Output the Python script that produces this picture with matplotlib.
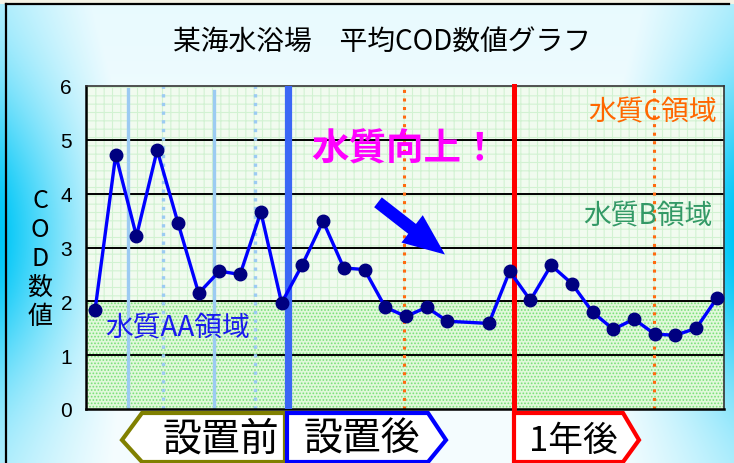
import numpy as np
import matplotlib
matplotlib.use("Agg")
import matplotlib.pyplot as plt
from matplotlib.patches import Polygon
from matplotlib.lines import Line2D

plt.rcParams['font.family'] = ['Noto Sans CJK JP', 'DejaVu Sans']
plt.rcParams['hatch.linewidth'] = 0.8

# ---------------- data ----------------
title = "某海水浴場　平均COD数値グラフ"
ylabel_chars = ["C", "O", "D", "数", "値"]
slots = [1, 2, 3, 4, 5, 6, 7, 8, 9, 10, 11, 12, 13, 14, 15, 16, 17, 18,
         20, 21, 22, 23, 24, 25, 26, 27, 28, 29, 30, 31]
cod = [1.83, 4.72, 3.21, 4.81, 3.46, 2.15, 2.56, 2.50, 3.66, 1.97,
       2.68, 3.49, 2.62, 2.59, 1.89, 1.72, 1.89, 1.63,
       1.59, 2.56, 2.02, 2.67, 2.33, 1.80, 1.48, 1.67, 1.39, 1.37, 1.50, 2.06]
yticks = [0, 1, 2, 3, 4, 5, 6]
lightblue_solid = [2.58, 6.75]
lightblue_dotted = [4.28, 8.72]
install_slot = 10.33
orange_dotted = [15.89, 27.98]
oneyear_slot = 21.23
phase_labels = ["設置前", "設置後", "1年後"]
zone_labels = ["水質AA領域", "水質B領域", "水質C領域"]
improve_label = "水質向上！"

W, H = 734, 464
fig = plt.figure(figsize=(W / 100, H / 100), dpi=100)

def fx(px):
    return px / W

def fy(py):
    return 1 - py / H

# ---------------- background gradient ----------------
bg = fig.add_axes([0, 0, 1, 1], zorder=-10)
bg.set_axis_off()
xx, yy = np.meshgrid(np.arange(W), np.arange(H))
dx = np.abs(xx - 367.0)
wx = np.clip((dx - 230) / 135.0, 0, 1) ** 1.2
wy = np.exp(-((yy - 235) / 150.0) ** 2)
w = wx * (0.25 + 0.75 * wy)
w = np.maximum(w, 0.04 + 0.05 * np.clip((200 - yy) / 200, 0, 1))
cyan = np.array([0.0, 0.78, 0.97])
white = np.array([1.0, 1.0, 1.0])
img = white[None, None, :] * (1 - w[..., None]) + cyan[None, None, :] * w[..., None]
img[:5, :, :] = np.array([0.96, 0.95, 0.90])
bg.imshow(img, extent=[0, 1, 0, 1], aspect='auto', origin='upper')
bg.set_xlim(0, 1)
bg.set_ylim(0, 1)
fig.add_artist(Line2D([fx(6), fx(6)], [fy(5), 0], color='black', lw=1.6))
fig.add_artist(Line2D([fx(6), fx(729)], [fy(5), fy(5)], color='black', lw=1.6))

# ---------------- main axes ----------------
ax = fig.add_axes([fx(86), fy(410), fx(724) - fx(86), fy(87) - fy(410)])
ax.set_xlim(0.566, 31.34)
ax.set_ylim(0, 6)
ax.set_facecolor('white')

ax.axhspan(0, 2, facecolor='#e0f8da', edgecolor='#78e078', hatch='.....', lw=0, zorder=0)
ax.axhspan(2, 6, facecolor='#f1fbef', edgecolor='#d2f2d2', hatch='++', lw=0, zorder=0)

for yv in yticks[1:-1]:
    ax.axhline(yv, color='black', lw=1.4, zorder=1)

for xv in lightblue_solid:
    ax.axvline(xv, ymax=0.99 if xv < 5 else 0.985, color='#9ccbf2', lw=2.4, zorder=2)
for xv in lightblue_dotted:
    ax.axvline(xv, color='#9ccbf2', lw=2.4, ls=(0, (1, 1.6)), zorder=2)
for xv in orange_dotted:
    ax.axvline(xv, color='#ff6a10', lw=2.2, ls=(0, (1, 1.8)), zorder=2)
ax.axvline(install_slot, color='#3b66f5', lw=5.2, zorder=3)
ax.axvline(oneyear_slot, ymin=-0.02, color='#ff0000', lw=3.6, zorder=3, clip_on=False)

ax.plot(slots, cod, color='#0000ff', lw=2.4, zorder=5,
        marker='o', markersize=9, markerfacecolor='#000080', markeredgecolor='#000080')

ax.set_yticks(yticks)
ax.set_yticklabels([str(t) for t in yticks], fontsize=15, family=['Liberation Sans'])
ax.set_xticks([])
ax.tick_params(axis='y', length=0, pad=10)
for side in ['left', 'bottom']:
    ax.spines[side].set_linewidth(1.8)
for side in ['top', 'right']:
    ax.spines[side].set_linewidth(1.2)
    ax.spines[side].set_color('#333333')

# zone labels
ax.text(1.48, 1.52, zone_labels[0], color='#1a1aee', fontsize=20, ha='left', va='center', zorder=6)
ax.text(30.8, 3.60, zone_labels[1], color='#339966', fontsize=20, ha='right', va='center', zorder=6)
ax.text(31.0, 5.53, zone_labels[2], color='#ff6600', fontsize=20, ha='right', va='center', zorder=6)
ax.text(15.95, 4.84, improve_label, color='#ff00ff', fontsize=27, fontweight='bold',
        ha='center', va='center', zorder=6)

ax.annotate('', xy=(17.88, 2.87), xytext=(14.65, 3.84),
            arrowprops=dict(arrowstyle='simple,head_width=1.25,head_length=1.5,tail_width=0.45',
                            mutation_scale=20, color='#0000ff', lw=0,
                            shrinkA=0, shrinkB=0), zorder=6)

# ---------------- texts ----------------
fig.text(fx(382), fy(42), title, fontsize=20, ha='center', va='center')
for i, ch in enumerate(ylabel_chars):
    fig.text(fx(40), fy(201 + i * 29), ch, fontsize=18, ha='center', va='center')

# ---------------- phase boxes ----------------
boxes = [
    ([(122, 441), (142, 414), (285, 414), (285, 463), (142, 463)], '#808000', (221, 440), 28),
    ([(287, 414), (428, 414), (446, 441), (428, 463), (287, 463)], '#0000ff', (362, 440), 28),
    ([(514, 414), (623, 414), (639, 441), (623, 463), (514, 463)], '#ff0000', (573, 441), 25),
]
for (pts, col, (tx, ty), fs), lab in zip(boxes, phase_labels):
    poly = Polygon([(fx(px), fy(py)) for px, py in pts], closed=True,
                   facecolor='white', edgecolor=col, lw=3.0, transform=fig.transFigure, zorder=4)
    fig.add_artist(poly)
    fig.text(fx(tx), fy(ty), lab, fontsize=fs, ha='center', va='center', zorder=5)

fig.savefig('out.png', dpi=100)
